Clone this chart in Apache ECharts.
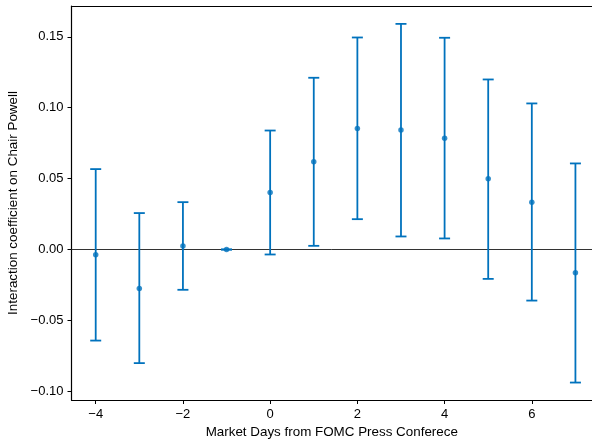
<!DOCTYPE html>
<html>
<head>
<meta charset="utf-8">
<script src="https://cdn.jsdelivr.net/npm/echarts@6/dist/echarts.min.js"></script>
<style>
  html, body { margin: 0; padding: 0; background: #fff; }
  #chart { width: 592px; height: 443px; }
</style>
</head>
<body>
<div id="chart"></div>
<script>
// Event-study coefficients with 95% confidence bands
const days    = [-4, -3, -2, -1, 0, 1, 2, 3, 4, 5, 6, 7];
const coef    = [-0.0037, -0.0275, 0.0024, 0.0, 0.0402, 0.0618, 0.0853, 0.0842, 0.0785, 0.0499, 0.0334, -0.0164];
const ciLow   = [-0.0642, -0.0801, -0.0284, 0.0, -0.0035, 0.0026, 0.0214, 0.0092, 0.0078, -0.0207, -0.0360, -0.0938];
const ciHigh  = [0.0567, 0.0257, 0.0334, 0.0, 0.0839, 0.1211, 0.1495, 0.1591, 0.1493, 0.1199, 0.1030, 0.0607];
const xTicks  = [-4, -2, 0, 2, 4, 6];
const yTicks  = [-0.10, -0.05, 0.00, 0.05, 0.10, 0.15];

const BLUE = '#0072BD';
const FONT = '"Liberation Sans", Arial, sans-serif';

const fmtY = v => {
  const s = Math.abs(v).toFixed(2);
  return v < -1e-9 ? '\u2212' + s : s;
};
const fmtX = v => (v < 0 ? '\u2212' + Math.abs(v) : String(v));

const points = days.map((d, i) => [d, coef[i]]);
const bars = days.map((d, i) => [d, ciLow[i], ciHigh[i]]);

const chart = echarts.init(document.getElementById('chart'), null, { renderer: 'canvas' });

chart.setOption({
  animation: false,
  backgroundColor: '#fff',
  grid: { left: 71.5, right: 0, top: 6, bottom: 43, containLabel: false, outerBoundsMode: 'none' },
  xAxis: [{
    type: 'value',
    min: -4.555, max: 7.38,
    name: 'Market Days from FOMC Press Conferece',
    nameLocation: 'middle', nameGap: 25,
    nameTextStyle: { fontFamily: FONT, fontSize: 13.4, color: '#000' },
    axisLine: { show: true, onZero: false, lineStyle: { color: '#000', width: 1.2 } },
    axisTick: { show: true, customValues: xTicks, length: 4, lineStyle: { color: '#000', width: 1 } },
    axisLabel: { customValues: xTicks, formatter: fmtX, fontFamily: FONT, fontSize: 13, color: '#000', margin: 8 },
    splitLine: { show: false }
  }, {
    type: 'value', position: 'top',
    min: -4.555, max: 7.38,
    axisLine: { show: true, onZero: false, lineStyle: { color: '#000', width: 1.2 } },
    axisTick: { show: false }, axisLabel: { show: false }, splitLine: { show: false }
  }],
  yAxis: {
    type: 'value',
    min: -0.1061, max: 0.1717,
    name: 'Interaction coefficient on Chair Powell',
    nameLocation: 'middle', nameGap: 48,
    nameTextStyle: { fontFamily: FONT, fontSize: 13.4, color: '#000' },
    axisLine: { show: true, onZero: false, lineStyle: { color: '#000', width: 1.2 } },
    axisTick: { show: true, customValues: yTicks, length: 4, lineStyle: { color: '#000', width: 1 } },
    axisLabel: { customValues: yTicks, formatter: fmtY, fontFamily: FONT, fontSize: 13, color: '#000', margin: 8 },
    splitLine: { show: false }
  },
  series: [
    {
      type: 'custom',
      z: 3,
      data: bars,
      renderItem: (params, api) => {
        const x = api.value(0);
        const lo = api.coord([x, api.value(1)]);
        const hi = api.coord([x, api.value(2)]);
        const hw = 5.5;
        const style = { stroke: BLUE, lineWidth: 1.8, fill: null };
        return {
          type: 'group',
          children: [
            { type: 'line', shape: { x1: lo[0], y1: lo[1], x2: hi[0], y2: hi[1] }, style },
            { type: 'line', shape: { x1: lo[0] - hw, y1: lo[1], x2: lo[0] + hw, y2: lo[1] }, style },
            { type: 'line', shape: { x1: hi[0] - hw, y1: hi[1], x2: hi[0] + hw, y2: hi[1] }, style }
          ]
        };
      }
    },
    {
      type: 'scatter',
      z: 4,
      data: points,
      symbol: 'circle',
      symbolSize: 5.5,
      itemStyle: { color: BLUE },
      markLine: {
        silent: true,
        symbol: 'none',
        label: { show: false },
        lineStyle: { color: '#333', width: 1, type: 'solid' },
        data: [{ yAxis: 0 }],
        z: 2
      }
    }
  ]
});
</script>
</body>
</html>
